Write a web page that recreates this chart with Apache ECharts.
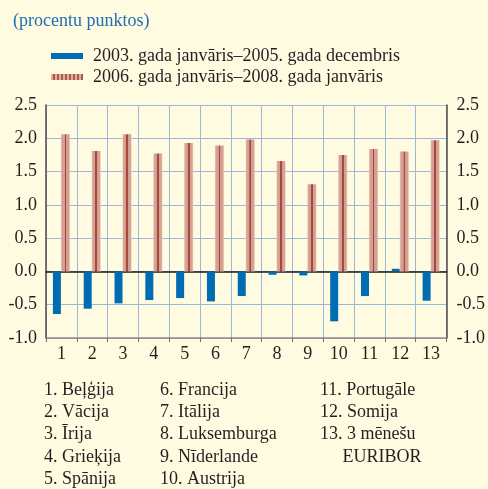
<!DOCTYPE html>
<html>
<head>
<meta charset="utf-8">
<script src="https://cdn.jsdelivr.net/npm/echarts@6/dist/echarts.min.js"></script>
<style>
html, body { margin: 0; padding: 0; background: #fefbe1; }
#main { width: 488px; height: 489px; }
</style>
</head>
<body>
<div id="main"></div>
<script>
// kategorijas (valstu numuri)
var categories = ['1', '2', '3', '4', '5', '6', '7', '8', '9', '10', '11', '12', '13'];
var seriesNames = ['2003. gada janvāris–2005. gada decembris', '2006. gada janvāris–2008. gada janvāris'];
// 2003-2005
var period1 = [-0.64, -0.56, -0.48, -0.43, -0.40, -0.45, -0.37, -0.05, -0.06, -0.75, -0.37, 0.04, -0.44];
// 2006-2008
var period2 = [2.06, 1.81, 2.06, 1.77, 1.93, 1.89, 1.98, 1.66, 1.31, 1.75, 1.84, 1.80, 1.97];
var notes = [
	['1. Beļģija', '2. Vācija', '3. Īrija', '4. Grieķija', '5. Spānija'],
	['6. Francija', '7. Itālija', '8. Luksemburga', '9. Nīderlande', '10. Austrija'],
	['11. Portugāle', '12. Somija', '13. 3 mēnešu', '     EURIBOR']
];

var font = '"Liberation Serif", "DejaVu Serif", serif';
var textColor = '#231f20';
var gridColor = '#9fb6dc';

// rozā stabiņš ar tumšu svītru vidū
var pinkBar = {
	type: 'linear', x: 0, y: 0, x2: 1, y2: 0,
	colorStops: [
		{ offset: 0, color: '#ecccc3' },
		{ offset: 0.12, color: '#d6a394' },
		{ offset: 0.41, color: '#d39e8f' },
		{ offset: 0.42, color: '#a5493d' },
		{ offset: 0.60, color: '#a5493d' },
		{ offset: 0.61, color: '#d39e8f' },
		{ offset: 0.88, color: '#d6a394' },
		{ offset: 1, color: '#ecccc3' }
	]
};
// leģendas ikona ar vairākām svītrām
var stripeStops = [];
for (var i = 0; i < 8; i++) {
	var a = i / 8;
	stripeStops.push({ offset: a, color: '#dcae9f' });
	stripeStops.push({ offset: a + 0.07, color: '#dcae9f' });
	stripeStops.push({ offset: a + 0.07, color: '#b0594a' });
	stripeStops.push({ offset: a + 0.11, color: '#b0594a' });
	stripeStops.push({ offset: a + 0.11, color: '#dcae9f' });
}
var pinkLegend = { type: 'linear', x: 0, y: 0, x2: 1, y2: 0, colorStops: stripeStops };

var graphics = [];
var colX = [44, 160, 320];
for (var c = 0; c < notes.length; c++) {
	for (var r = 0; r < notes[c].length; r++) {
		graphics.push({
			type: 'text',
			left: colX[c],
			top: 381 + r * 22.3,
			style: { text: notes[c][r], font: '18px ' + font, fill: textColor }
		});
	}
}

function yLabel(v) {
	return v.toFixed(1);
}

var myChart = echarts.init(document.getElementById('main'));
var option = {
	backgroundColor: '#fefbe1',
	animation: false,
	title: {
		text: '(procentu punktos)',
		left: 8,
		top: 7,
		textStyle: { fontFamily: font, fontSize: 18, fontWeight: 'normal', color: '#1f6db3' }
	},
	legend: {
		orient: 'vertical',
		left: 46,
		top: 42,
		itemWidth: 32,
		itemHeight: 6,
		itemGap: 3,
		icon: 'rect',
		textStyle: { fontFamily: font, fontSize: 18, color: textColor, padding: [0, 0, 0, 5] },
		data: [
			{ name: seriesNames[0] },
			{ name: seriesNames[1], itemStyle: { color: pinkLegend } }
		]
	},
	grid: { left: 46, right: 37, top: 105, bottom: 151, containLabel: false },
	xAxis: [{
		type: 'category',
		data: categories,
		axisLine: { onZero: false, lineStyle: { color: '#8c8c8c', width: 1.5 } },
		axisTick: { show: true, length: 4, lineStyle: { color: '#6d6d6d' } },
		axisLabel: { fontFamily: font, fontSize: 18, color: textColor, margin: 7 },
		splitLine: { show: true, lineStyle: { color: gridColor, width: 1 } }
	}, {
		// nulles līnija zem stabiņiem
		type: 'category',
		data: categories,
		position: 'bottom',
		axisLine: { onZero: true, lineStyle: { color: '#1a1a1a', width: 1.5 } },
		axisTick: { show: false },
		axisLabel: { show: false },
		splitLine: { show: false }
	}],
	yAxis: [{
		type: 'value',
		min: -1,
		max: 2.5,
		interval: 0.5,
		axisLine: { show: true, lineStyle: { color: '#4d4d4d', width: 1.5 } },
		axisTick: { show: false },
		axisLabel: { fontFamily: font, fontSize: 18, color: textColor, margin: 9, formatter: yLabel },
		splitLine: { show: true, lineStyle: { color: gridColor, width: 1 } }
	}, {
		type: 'value',
		min: -1,
		max: 2.5,
		interval: 0.5,
		position: 'right',
		axisLine: { show: true, lineStyle: { color: '#4d4d4d', width: 1.5 } },
		axisTick: { show: false },
		axisLabel: { fontFamily: font, fontSize: 18, color: textColor, margin: 10, formatter: yLabel },
		splitLine: { show: false }
	}],
	series: [{
		name: seriesNames[0],
		type: 'bar',
		data: period1,
		barWidth: 8,
		barGap: '0%',
		itemStyle: { color: '#006db3' }
	}, {
		name: seriesNames[1],
		type: 'bar',
		data: period2,
		barWidth: 9,
		barGap: '0%',
		itemStyle: { color: pinkBar }
	}],
	graphic: graphics
};

myChart.setOption(option);
</script>
</body>
</html>
